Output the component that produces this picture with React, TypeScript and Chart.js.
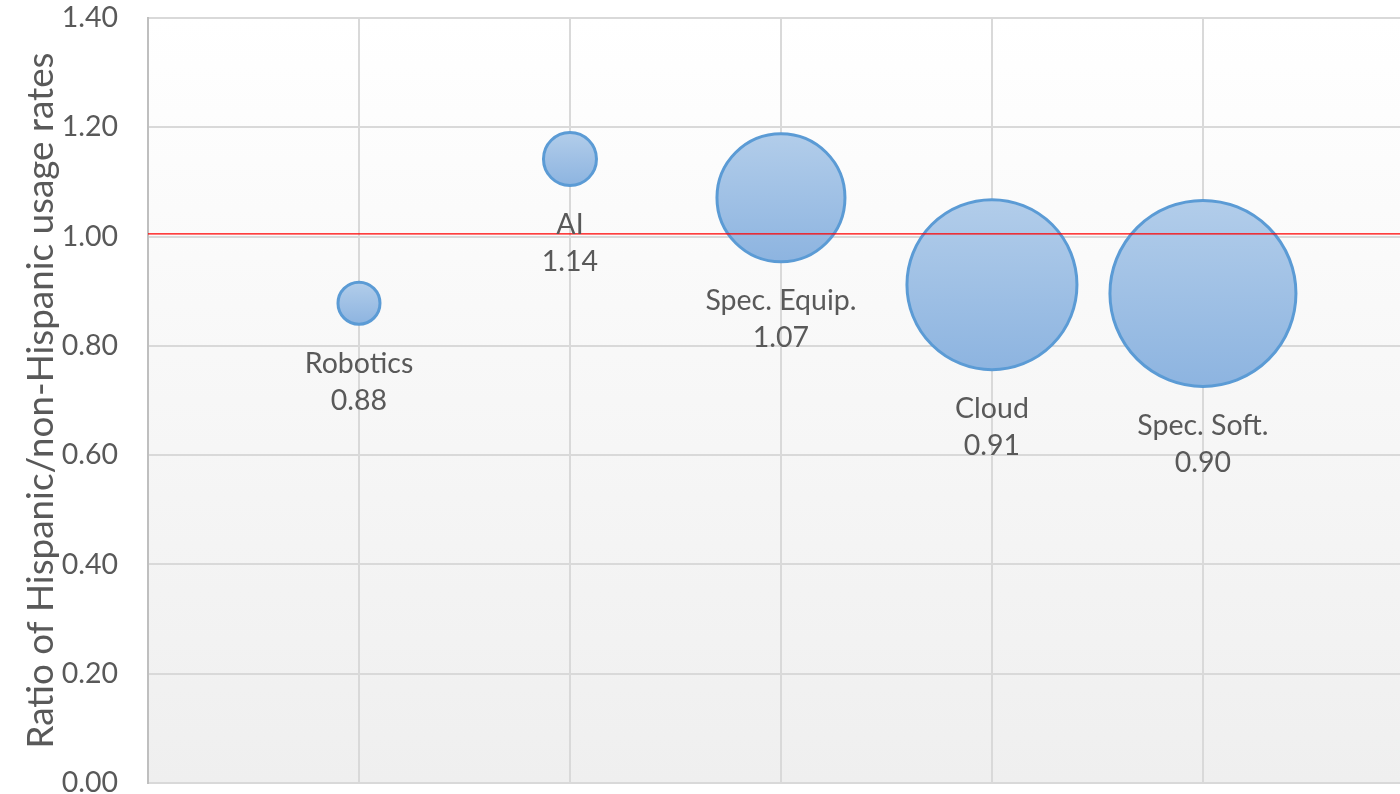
import React, { useEffect, useRef } from "react";
import { Chart, registerables, BubbleController } from "chart.js";

Chart.register(...registerables);

// Keep the plot area at the layout padding rather than growing it by the largest bubble radius.
(BubbleController.prototype as any).getMaxOverflow = function () {
  return 0;
};

const categories = ["Robotics", "AI", "Spec. Equip.", "Cloud", "Spec. Soft."];
const xPositions = [1, 2, 3, 4, 5];
const ratios = [0.878, 1.142, 1.071, 0.912, 0.896];
const valueLabels = ["0.88", "1.14", "1.07", "0.91", "0.90"];
const bubbleSizes = [21, 26.5, 64, 85, 93];
const referenceLine = 1.005;
const yTickMin = 0;
const yTickMax = 1.4;
const yTickStep = 0.2;
const yTitle = "Ratio of Hispanic/non-Hispanic usage rates";

const FONT = "Lato, 'Liberation Sans', sans-serif";
const TEXT = "#595959";

const bgPlugin = {
  id: "bgGradient",
  beforeDraw(chart: any) {
    const { ctx, chartArea } = chart;
    if (!chartArea) return;
    const g = ctx.createLinearGradient(0, chartArea.top, 0, chartArea.bottom);
    g.addColorStop(0, "#ffffff");
    g.addColorStop(1, "#efefef");
    ctx.save();
    ctx.fillStyle = g;
    ctx.fillRect(chartArea.left, chartArea.top, chartArea.right - chartArea.left, chartArea.bottom - chartArea.top);
    ctx.restore();
  },
};

const overlayPlugin = {
  id: "overlay",
  afterDatasetsDraw(chart: any) {
    const { ctx, chartArea, scales } = chart;
    const yRef = scales.y.getPixelForValue(referenceLine);
    ctx.save();
    ctx.strokeStyle = "#ff0000";
    ctx.lineWidth = 1.2;
    ctx.beginPath();
    ctx.moveTo(chartArea.left, yRef);
    ctx.lineTo(chartArea.right, yRef);
    ctx.stroke();

    ctx.fillStyle = TEXT;
    ctx.font = `28.5px ${FONT}`;
    ctx.textAlign = "center";
    ctx.textBaseline = "middle";
    const meta = chart.getDatasetMeta(0);
    meta.data.forEach((el: any, i: number) => {
      const r = bubbleSizes[i] + 1.5;
      const y1 = el.y + r + 38;
      ctx.fillText(categories[i], el.x, y1);
      ctx.fillText(valueLabels[i], el.x, y1 + 37);
    });
    ctx.restore();
  },
};

export default function App() {
  const ref = useRef<HTMLCanvasElement>(null);
  useEffect(() => {
    if (!ref.current) return;
    const data = categories.map((_, i) => ({ x: xPositions[i], y: ratios[i], r: bubbleSizes[i] }));
    const chart = new Chart(ref.current, {
      type: "bubble",
      data: {
        datasets: [
          {
            label: "Usage ratio",
            data,
            borderColor: "#5b9bd5",
            borderWidth: 3,
            clip: false,
            backgroundColor: (c: any) => {
              const ch = c.chart;
              if (!ch.chartArea || c.dataIndex === undefined) return "#a3c1e6";
              const yc = ch.scales.y.getPixelForValue(ratios[c.dataIndex]);
              const r = bubbleSizes[c.dataIndex];
              const g = ch.ctx.createLinearGradient(0, yc - r, 0, yc + r);
              g.addColorStop(0, "#b2cdea");
              g.addColorStop(1, "#8db4e0");
              return g;
            },
          },
        ],
      },
      options: {
        animation: false,
        responsive: false,
        maintainAspectRatio: false,
        devicePixelRatio: 1,
        layout: { padding: { top: 18, bottom: 11, right: 0, left: 0 } },
        plugins: { legend: { display: false }, tooltip: { enabled: false } },
        scales: {
          x: {
            type: "linear",
            min: 0,
            max: 5.934,
            ticks: { display: false, stepSize: 1, includeBounds: false },
            grid: { color: "#d9d9d9", lineWidth: 2, drawTicks: false },
            border: { display: false },
            afterFit: (s: any) => {
              s.height = 0;
              s.paddingLeft = 0;
              s.paddingRight = 0;
            },
          },
          y: {
            min: yTickMin,
            max: yTickMax,
            ticks: {
              stepSize: yTickStep,
              color: TEXT,
              font: { family: FONT, size: 28.5 },
              padding: 30,
              callback: (v: any) => Number(v).toFixed(2),
            },
            grid: { color: "#d9d9d9", lineWidth: 2, drawTicks: false },
            border: { color: "#bfbfbf", width: 2 },
            title: {
              display: true,
              text: yTitle,
              color: TEXT,
              font: { family: FONT, size: 36.8 },
              padding: { top: 19, bottom: 0 },
            },
            afterFit: (s: any) => {
              s.width = 148;
              s.paddingTop = 0;
              s.paddingBottom = 0;
            },
          },
        },
      },
      plugins: [bgPlugin, overlayPlugin],
    });
    return () => chart.destroy();
  }, []);
  return (
    <div style={{ position: "fixed", left: 0, top: 0, width: 1400, height: 794, background: "#ffffff" }}>
      <canvas ref={ref} width={1400} height={794} style={{ display: "block", width: 1400, height: 794 }} />
    </div>
  );
}
